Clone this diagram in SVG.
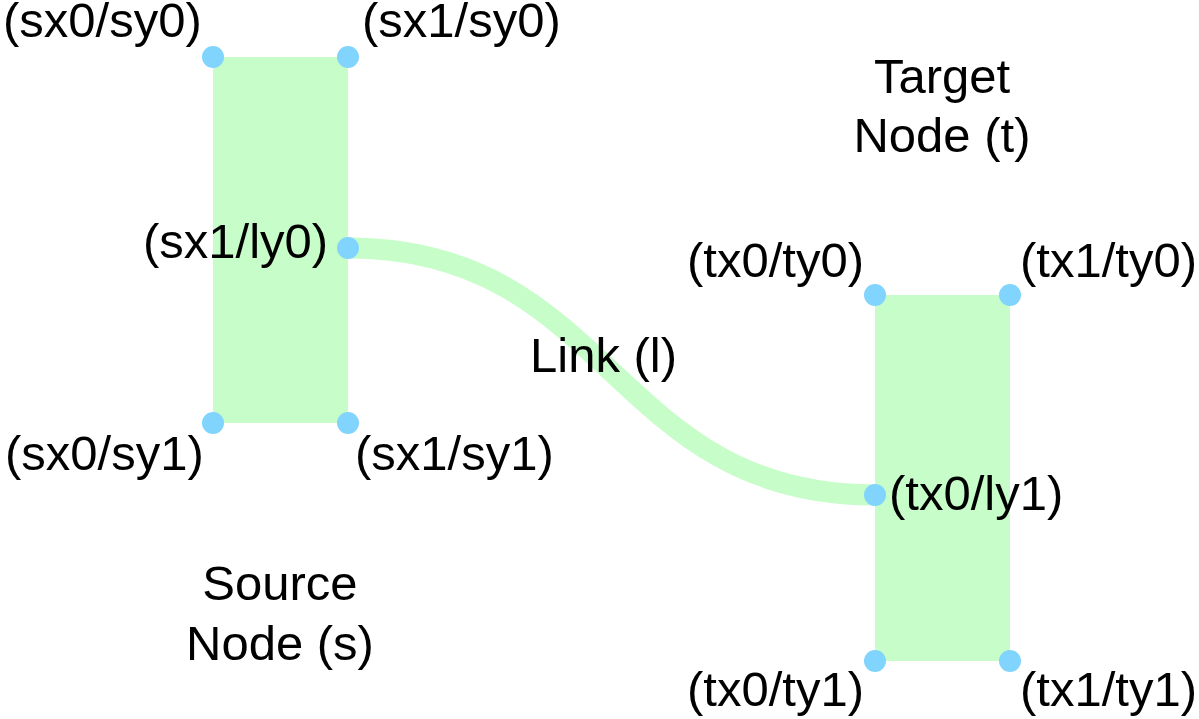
<svg xmlns="http://www.w3.org/2000/svg" width="1199" height="719" viewBox="0 0 1199 719">
<style>
.node{fill:#c6fdc8}
.link{fill:none;stroke:#c6fdc8;stroke-width:21}
.pt{fill:#80d4fe}
text{font-family:"Liberation Sans",Arial,sans-serif;font-size:49px;fill:#000}
.m{text-anchor:middle}
</style>
<rect width="1199" height="719" fill="#fff"/>
<g id="links">
<path class="link" d="M348,248 C611.5,248 611.5,495 875,495"/>
</g>
<g id="source">
<rect class="node" x="213" y="57" width="135" height="366"/>
<text class="m" x="280" y="600">Source</text>
<text class="m" x="280" y="660">Node (s)</text>
</g>
<g id="target">
<rect class="node" x="875" y="295" width="135" height="366"/>
<text class="m" x="942" y="93">Target</text>
<text class="m" x="942" y="152">Node (t)</text>
</g>
<g id="points">
<circle class="pt" cx="213" cy="57" r="11"/>
<circle class="pt" cx="348" cy="57" r="11"/>
<circle class="pt" cx="213" cy="423" r="11"/>
<circle class="pt" cx="348" cy="423" r="11"/>
<circle class="pt" cx="348" cy="248" r="11"/>
<circle class="pt" cx="875" cy="295" r="11"/>
<circle class="pt" cx="1010" cy="295" r="11"/>
<circle class="pt" cx="875" cy="661" r="11"/>
<circle class="pt" cx="1010" cy="661" r="11"/>
<circle class="pt" cx="875" cy="495" r="11"/>
</g>
<g id="labels">
<text x="3" y="37">(sx0/sy0)</text>
<text x="362" y="37">(sx1/sy0)</text>
<text x="143" y="258">(sx1/ly0)</text>
<text x="5" y="470">(sx0/sy1)</text>
<text x="355" y="470">(sx1/sy1)</text>
<text x="687" y="277">(tx0/ty0)</text>
<text x="1020" y="277">(tx1/ty0)</text>
<text x="889" y="510">(tx0/ly1)</text>
<text x="687" y="706">(tx0/ty1)</text>
<text x="1020" y="706">(tx1/ty1)</text>
<text x="530" y="372">Link (l)</text>
</g>
</svg>
